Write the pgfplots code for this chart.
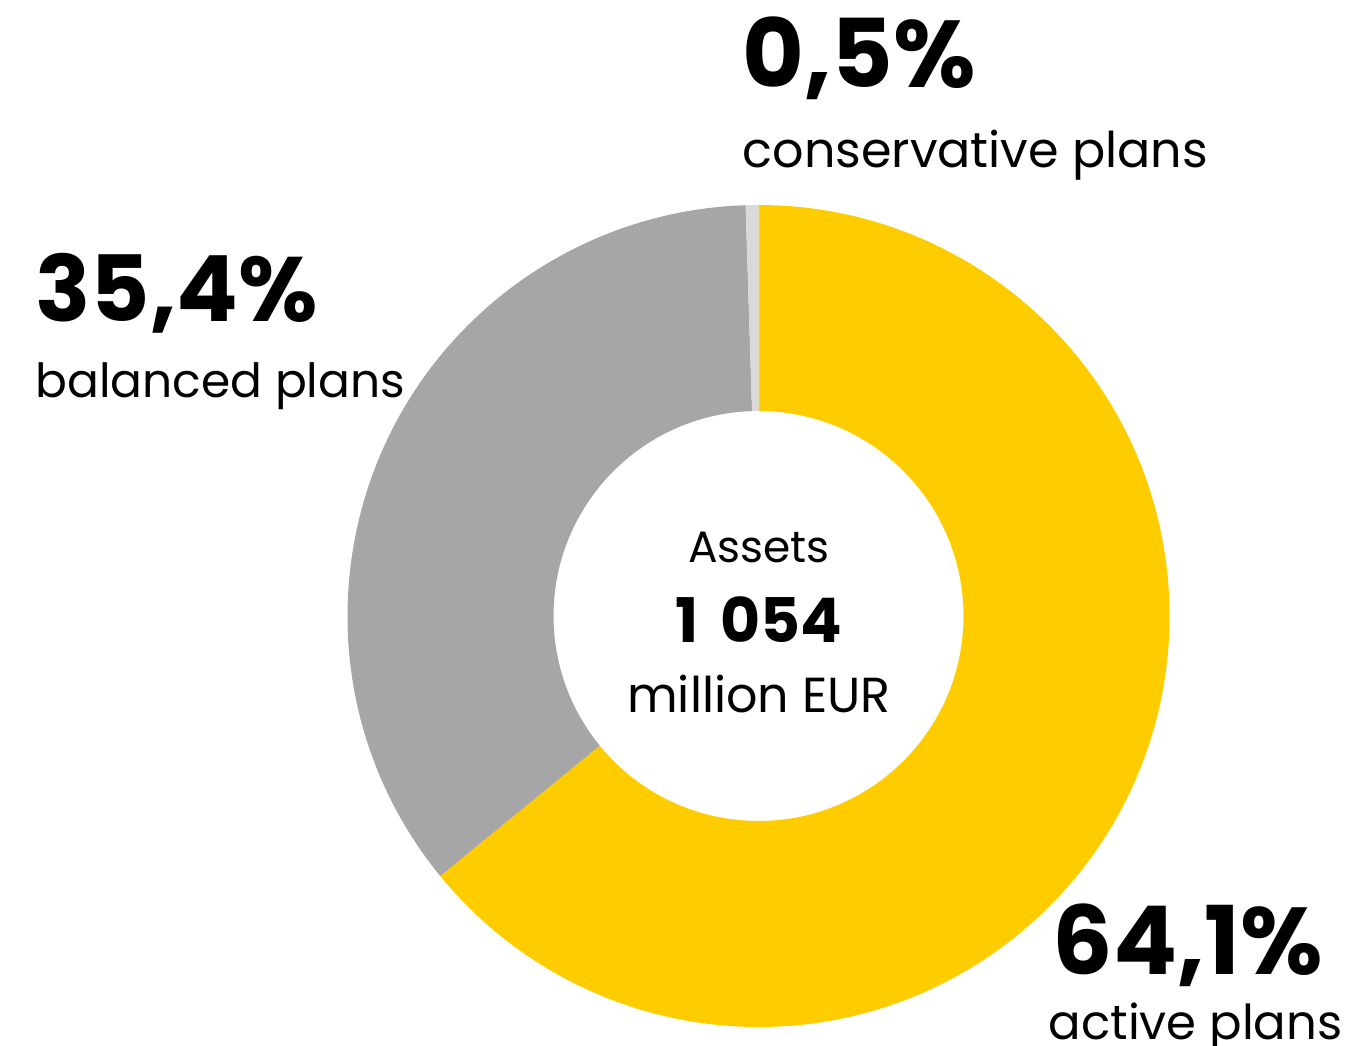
\documentclass[border=0pt]{standalone}
\usepackage{pgfplots}
\pgfplotsset{compat=1.18}
\usepackage{pgfplotstable}
\usepackage{fontspec}
\setmainfont{Poppins}
\usetikzlibrary{calc}
\definecolor{cyellow}{RGB}{255,204,0}
\definecolor{cgray}{RGB}{166,166,166}
\definecolor{clight}{RGB}{217,217,217}

% share of assets, %
\pgfplotstableread{
plan         share
active       64.1
balanced     35.4
conservative 0.5
}\shares

\pgfplotstablegetelem{0}{share}\of\shares \let\sA\pgfplotsretval
\pgfplotstablegetelem{1}{share}\of\shares \let\sB\pgfplotsretval
\pgfplotstablegetelem{2}{share}\of\shares \let\sC\pgfplotsretval
% clockwise from 12 o'clock
\pgfmathsetmacro\aO{90}
\pgfmathsetmacro\aA{90-3.6*\sA}
\pgfmathsetmacro\aB{\aA-3.6*\sB}
\pgfmathsetmacro\aC{\aB-3.6*\sC}
\newcommand\Ro{41.1mm}
\newcommand\Ri{20.5mm}
\newcommand\slice[3]{% start, end, colour
  \fill[#3] ($(c)+(#1:\Ro)$) arc[start angle=#1, end angle=#2, radius=\Ro]
    -- ($(c)+(#2:\Ri)$) arc[start angle=#2, end angle=#1, radius=\Ri] -- cycle;}

\begin{document}
\begin{tikzpicture}
\begin{axis}[
  width=13.72cm, height=10.46cm, scale only axis,
  xmin=0, xmax=1372, ymin=0, ymax=1046,
  hide axis, clip=false,
]
  \coordinate (c) at (axis cs:758.5,430);
  \slice{\aO}{\aA}{cyellow}
  \slice{\aA}{\aB}{cgray}
  \slice{\aB}{\aC}{clight}

  \node[anchor=base west, inner sep=0, font=\fontsize{27}{30}\selectfont\bfseries]
    at (axis cs:742,958) {0,5\%};
  \node[anchor=base west, inner sep=0, font=\fontsize{14}{16}\selectfont]
    at (axis cs:742,878) {conservative plans};
  \node[anchor=base west, inner sep=0, font=\fontsize{26}{30}\selectfont\bfseries]
    at (axis cs:35,724) {35,4\%};
  \node[anchor=base west, inner sep=0, font=\fontsize{13.4}{16}\selectfont]
    at (axis cs:35,648) {balanced plans};
  \node[anchor=base west, inner sep=0, font=\fontsize{27}{30}\selectfont\bfseries]
    at (axis cs:1052,71) {64,1\%};
  \node[anchor=base west, inner sep=0, font=\fontsize{13.7}{16}\selectfont]
    at (axis cs:1048,6) {active plans};

  \node[anchor=base, inner sep=0, font=\fontsize{12.5}{15}\selectfont]
    at (axis cs:759,483) {Assets};
  \node[anchor=base, inner sep=0, font=\fontsize{17.5}{20}\selectfont\bfseries]
    at (axis cs:759,403) {1\hspace{0.35em}054};
  \node[anchor=base, inner sep=0, font=\fontsize{14}{17}\selectfont]
    at (axis cs:759,333) {million EUR};
\end{axis}
\pgfresetboundingbox
\useasboundingbox (current axis.south west) rectangle (current axis.north east);
\end{tikzpicture}
\end{document}
